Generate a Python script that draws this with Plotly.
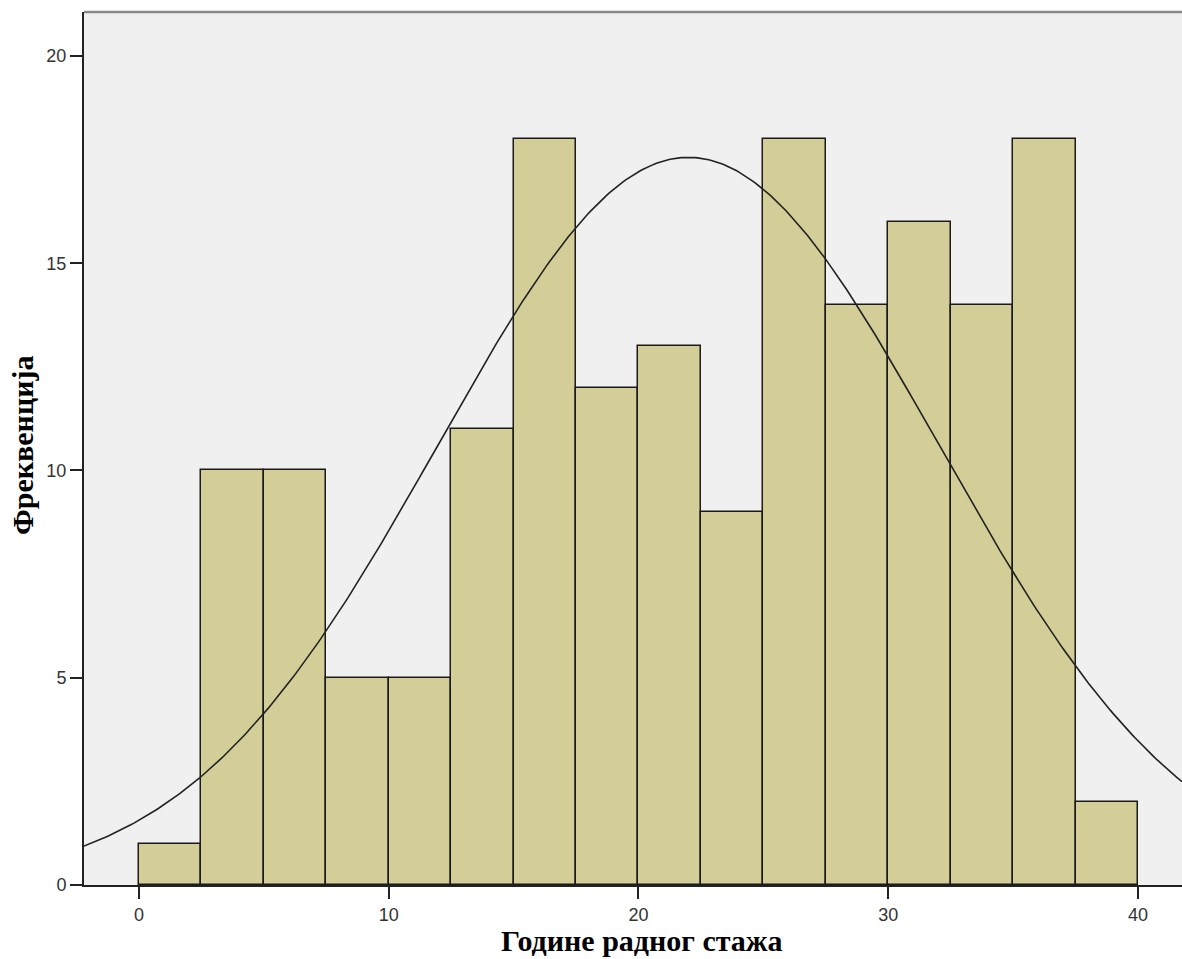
import numpy as np
import plotly.graph_objects as go

bin_starts = [0, 2.5, 5, 7.5, 10, 12.5, 15, 17.5, 20, 22.5, 25, 27.5, 30, 32.5, 35, 37.5]
counts = [1, 10, 10, 5, 5, 11, 18, 12, 13, 9, 18, 14, 16, 14, 18, 2]
bin_width = 2.5
mean_val = 22.0
sd_val = 10.0
x_ticks = [0, 10, 20, 30, 40]
y_ticks = [0, 5, 10, 15, 20]
x_title = "Године радног стажа"
y_title = "Фреквенција"

centers = [s + bin_width / 2 for s in bin_starts]
n_total = sum(counts)
xr = [-2.2, 41.76]
xc = np.linspace(xr[0], xr[1], 400)
yc = n_total * bin_width / (sd_val * np.sqrt(2 * np.pi)) * np.exp(-0.5 * ((xc - mean_val) / sd_val) ** 2)

title_font = dict(family="Liberation Serif, Times New Roman", size=30, color="black", weight="bold")

fig = go.Figure()
fig.add_trace(go.Bar(x=centers, y=counts, width=bin_width,
                     marker=dict(color="#D3CE97", line=dict(color="#1a1a1a", width=1.5)),
                     showlegend=False))
fig.add_trace(go.Scatter(x=xc, y=yc, mode="lines", line=dict(color="#222222", width=1.6),
                         showlegend=False))

fig.update_layout(
    width=1182, height=959,
    margin=dict(l=84, r=0, t=12, b=74),
    paper_bgcolor="white", plot_bgcolor="#F0F0F0",
    bargap=0,
    font=dict(family="Liberation Sans, Arial", color="#333333"),
)
fig.update_xaxes(range=xr, tickvals=x_ticks, ticks="outside", ticklen=12, tickwidth=1.5,
                 tickcolor="#222222", showgrid=False, zeroline=False,
                 showline=True, linecolor="#222222", linewidth=2,
                 tickfont=dict(size=18, color="#333333"))
fig.update_yaxes(range=[0, 21.06], tickvals=y_ticks, ticks="outside", ticklen=12, tickwidth=1.5,
                 tickcolor="#222222", showgrid=False, zeroline=False,
                 showline=True, linecolor="#222222", linewidth=2,
                 tickfont=dict(size=18, color="#333333"))
fig.add_shape(type="line", xref="paper", yref="paper", x0=0, x1=1, y0=1, y1=1,
              line=dict(color="#888888", width=2.5))
fig.add_annotation(text=x_title, xref="paper", yref="paper", x=0.508, y=-0.0635,
                   xanchor="center", yanchor="middle", showarrow=False, font=title_font)
fig.add_annotation(text=y_title, xref="paper", yref="paper", x=-0.0565, y=0.504,
                   xanchor="center", yanchor="middle", showarrow=False, textangle=-90,
                   font=title_font)

fig.write_html("out.html", config={"displayModeBar": False},
               post_script="document.body.style.margin='0';document.body.style.overflow='hidden';")
